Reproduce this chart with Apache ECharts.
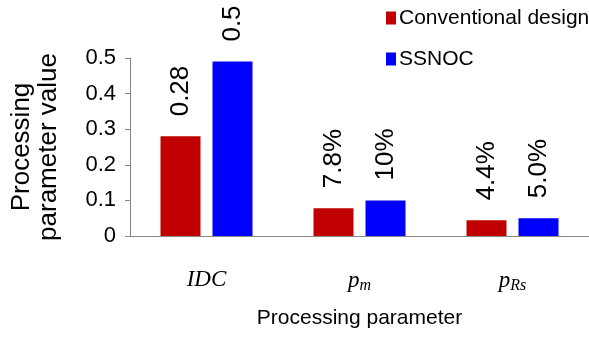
<!DOCTYPE html>
<html>
<head>
<meta charset="utf-8">
<script src="https://cdn.jsdelivr.net/npm/echarts@6/dist/echarts.min.js"></script>
<style>
  html, body { margin: 0; padding: 0; background: #fff; }
  #chart { width: 589px; height: 337px; }
</style>
</head>
<body>
<div id="chart"></div>
<script>
// 数据
const categories = ['IDC', 'p_m', 'p_Rs']
const seriesNames = ['Conventional design', 'SSNOC']
const conventionalValues = [0.28, 0.078, 0.044]
const ssnocValues = [0.49, 0.10, 0.05]
const conventionalLabels = ['0.28', '7.8%', '4.4%']
const ssnocLabels = ['0.5', '10%', '5.0%']
const yTicks = [0, 0.1, 0.2, 0.3, 0.4, 0.5]

const chart = echarts.init(document.getElementById('chart'))

// 'p_m' -> 斜体 p 加下标 m
function mathLabel(v) {
  const parts = v.split('_')
  if (parts.length === 1) return '{i|' + v + '}'
  return '{i|' + parts[0] + '}{s|' + parts[1] + '}'
}

const barLabel = (texts) => ({
  show: true,
  position: 'top',
  rotate: 90,
  align: 'left',
  verticalAlign: 'middle',
  distance: 20,
  color: '#000',
  fontSize: 26,
  fontFamily: 'Liberation Sans, Arial, sans-serif',
  formatter: (p) => texts[p.dataIndex]
})

const option = {
  animation: false,
  grid: {
    left: 128,
    right: -4,
    top: 58,
    bottom: 101
  },
  legend: {
    orient: 'vertical',
    left: 381,
    top: 2,
    itemWidth: 10,
    itemHeight: 13,
    itemGap: 19,
    icon: 'rect',
    textStyle: {
      fontSize: 21,
      lineHeight: 22,
      color: '#000',
      fontFamily: 'Liberation Sans, Arial, sans-serif',
      padding: [0, 0, 0, -2]
    },
    data: seriesNames
  },
  xAxis: {
    type: 'category',
    data: categories,
    name: 'Processing parameter',
    nameLocation: 'middle',
    nameGap: 72,
    nameTextStyle: {
      fontSize: 21,
      color: '#000',
      fontFamily: 'Liberation Sans, Arial, sans-serif'
    },
    axisLine: { lineStyle: { color: '#878787', width: 1 } },
    axisTick: { length: 6, lineStyle: { color: '#878787' } },
    axisLabel: {
      margin: 32,
      formatter: mathLabel,
      rich: {
        i: {
          fontSize: 23,
          fontStyle: 'italic',
          fontFamily: 'Liberation Serif, DejaVu Serif, serif',
          color: '#000'
        },
        s: {
          fontSize: 16,
          fontStyle: 'italic',
          fontFamily: 'Liberation Serif, DejaVu Serif, serif',
          color: '#000',
          padding: [10, 0, 0, 0]
        }
      }
    }
  },
  yAxis: {
    type: 'value',
    min: yTicks[0],
    max: yTicks[yTicks.length - 1],
    interval: 0.1,
    name: 'Processing\nparameter value',
    nameLocation: 'middle',
    nameGap: 68,
    nameTextStyle: {
      fontSize: 26,
      lineHeight: 27,
      color: '#000',
      fontFamily: 'Liberation Sans, Arial, sans-serif'
    },
    splitLine: { show: false },
    axisLine: { show: true, lineStyle: { color: '#878787', width: 1 } },
    axisTick: { show: true, length: 5, lineStyle: { color: '#878787' } },
    axisLabel: {
      margin: 14,
      fontSize: 22,
      color: '#000',
      fontFamily: 'Liberation Sans, Arial, sans-serif'
    }
  },
  series: [
    {
      name: seriesNames[0],
      type: 'bar',
      data: conventionalValues,
      barWidth: 40,
      barGap: '30%',
      itemStyle: { color: '#C00000' },
      label: barLabel(conventionalLabels)
    },
    {
      name: seriesNames[1],
      type: 'bar',
      data: ssnocValues,
      barWidth: 40,
      barGap: '30%',
      itemStyle: { color: '#0000FF' },
      label: barLabel(ssnocLabels)
    }
  ]
}

chart.setOption(option)
</script>
</body>
</html>
